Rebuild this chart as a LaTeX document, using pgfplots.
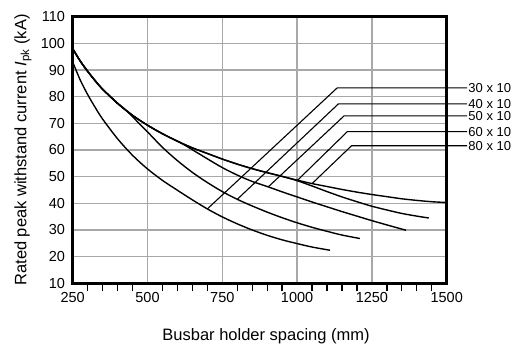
\documentclass[border=0pt]{standalone}
\usepackage{fontspec}
\setmainfont{Liberation Sans}
\usepackage{pgfplots}
\pgfplotsset{compat=1.18}
\definecolor{gridgray}{RGB}{168,168,168}

\begin{document}
\begin{tikzpicture}
\begin{axis}[
  name=ax,
  scale only axis,
  width=374pt, height=266.6pt,
  xmin=250, xmax=1500, ymin=10, ymax=110,
  xtick={250,500,...,1500},
  ytick={10,20,...,110},
  minor x tick num=4,
  grid=major,
  grid style={gridgray, line width=1.4pt},
  axis line style={black, line width=3.2pt},
  major tick length=0pt,
  minor tick length=8pt,
  tick align=outside,
  xtick pos=bottom,
  ytick style={draw=none},
  minor x tick style={black, line width=1.3pt},
  /pgf/number format/assume math mode=true,
  /pgf/number format/1000 sep={},
  ticklabel style={font=\fontsize{14.5}{14.5}\selectfont, inner sep=0pt},
  xticklabel style={anchor=center, yshift=-14.7pt},
  yticklabel style={anchor=east, xshift=-7.5pt},
  label style={font=\fontsize{16.5}{16.5}\selectfont},
  xlabel={Busbar holder spacing (mm)},
  ylabel={Rated peak withstand current \textit{I}\textsubscript{pk} (kA)},
  xlabel style={at={(axis description cs:0.517,-0.2127)}, anchor=base},
  ylabel style={at={(axis description cs:-0.1329,0.5)}, anchor=center},
  clip=false,
]
% 30 x 10
\addplot[black, line width=1.4pt, smooth] coordinates {
  (250,93.0) (275,86.3) (300,80.8) (325,76.0) (350,71.6) (400,64.2)
  (450,58.0) (500,52.9) (550,48.6) (600,44.9) (650,41.3) (700,37.9)
  (750,34.9) (800,32.3) (850,30.0) (900,28.0) (950,26.3) (1000,24.9)
  (1050,23.6) (1110,22.4)};
% 40 x 10
\addplot[black, line width=1.4pt, smooth] coordinates {
  (250,98.0) (275,93.4) (300,89.5) (325,86.0) (350,82.8) (400,77.5)
  (425,75.2) (450,72.5) (475,69.6) (500,66.8) (550,61.0) (600,56.0)
  (650,51.6) (700,47.8) (750,44.4) (800,41.5) (850,39.0) (900,36.7)
  (950,34.6) (1000,32.7) (1050,31.0) (1100,29.5) (1150,28.1) (1210,26.8)};
% 50 x 10
\addplot[black, line width=1.4pt, smooth] coordinates {
  (250,98.0) (275,93.4) (300,89.5) (325,86.0) (350,82.8) (400,77.5)
  (450,73.0) (500,69.3) (550,66.1) (600,63.3) (625,61.8) (650,60.1)
  (700,56.7) (750,53.4) (800,50.6) (850,48.2) (900,46.3) (950,44.3)
  (1000,42.4) (1050,40.5) (1100,38.7) (1150,36.9) (1200,35.2) (1250,33.5)
  (1300,31.9) (1364,29.9)};
% 60 x 10
\addplot[black, line width=1.4pt, smooth] coordinates {
  (250,98.0) (275,93.4) (300,89.5) (325,86.0) (350,82.8) (400,77.5)
  (450,73.0) (500,69.3) (550,66.1) (600,63.3) (650,60.8) (700,58.7)
  (750,56.6) (800,54.7) (850,53.0) (900,51.5) (950,50.1) (1000,48.5)
  (1050,46.5) (1100,44.4) (1150,42.4) (1200,40.6) (1250,38.9) (1300,37.5)
  (1350,36.2) (1400,35.2) (1440,34.5)};
% 80 x 10
\addplot[black, line width=1.4pt, smooth] coordinates {
  (250,98.0) (275,93.4) (300,89.5) (325,86.0) (350,82.8) (400,77.5)
  (450,73.0) (500,69.3) (550,66.1) (600,63.3) (650,60.8) (700,58.7)
  (750,56.6) (800,54.7) (850,53.0) (900,51.5) (950,50.1) (1000,48.7)
  (1050,47.4) (1100,46.3) (1150,45.2) (1200,44.2) (1250,43.3) (1300,42.5)
  (1350,41.7) (1400,41.1) (1450,40.6) (1500,40.3)};

% leader lines
\addplot[black, line width=1.1pt] coordinates {(700,37.9) (1134,83.3) (1568,83.3)};
\addplot[black, line width=1.1pt] coordinates {(800,41.5) (1138,77.3) (1568,77.3)};
\addplot[black, line width=1.1pt] coordinates {(904,46.2) (1157,72.8) (1568,72.8)};
\addplot[black, line width=1.1pt] coordinates {(1000,48.5) (1168,66.9) (1568,66.9)};
\addplot[black, line width=1.1pt] coordinates {(1050,47.4) (1182,61.6) (1568,61.6)};

\begin{scope}[every node/.style={anchor=west, inner sep=0pt, font=\fontsize{13}{13}\selectfont}]
\node at (axis cs:1572,83.3) {30 x 10};
\node at (axis cs:1572,77.3) {40 x 10};
\node at (axis cs:1572,72.8) {50 x 10};
\node at (axis cs:1572,66.9) {60 x 10};
\node at (axis cs:1572,61.6) {80 x 10};
\end{scope}
\end{axis}
\pgfresetboundingbox
\path[use as bounding box] ([shift={(-72.7pt,-61.7pt)}]ax.south west) rectangle ([shift={(69.3pt,16.7pt)}]ax.north east);
\end{tikzpicture}
\end{document}
